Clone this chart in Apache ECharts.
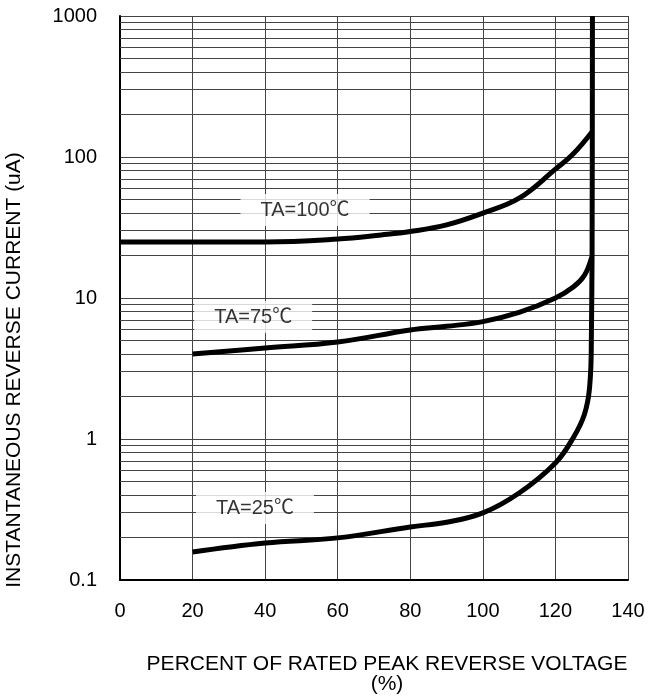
<!DOCTYPE html>
<html><head><meta charset="utf-8">
<script src="https://cdn.jsdelivr.net/npm/echarts@6/dist/echarts.min.js"></script>
<style>html,body{margin:0;padding:0;background:#fff}#c{width:658px;height:697px}</style>
</head><body><div id="c"></div>
<script>
// ---- data ----
var xTicks = [0, 20, 40, 60, 80, 100, 120, 140];
var yTicks = [0.1, 1, 10, 100, 1000];
var minorGrid = [0.2,0.3,0.4,0.5,0.6,0.7,0.8,0.9, 2,3,4,5,6,7,8,9, 20,30,40,50,60,70,80,90, 200,300,400,500,600,700,800,900];

var volt100 = [0, 20, 40, 60, 72, 80, 90, 100, 110, 120, 125, 130];
var curr100 = [25, 25, 25, 26.2, 28, 29.6, 33, 40, 51, 82, 106, 150];

var volt75 = [20, 40, 60, 80, 90, 100, 110, 120, 125, 128, 130];
var curr75 = [4.0, 4.42, 4.87, 5.93, 6.3, 6.8, 7.9, 10, 12, 14.5, 19.5];

var volt25 = [20, 40, 60, 80, 90, 100, 110, 120, 125, 128, 129.4, 129.9];
var curr25 = [0.158, 0.183, 0.199, 0.238, 0.257, 0.299, 0.414, 0.676, 1.03, 1.5, 2.3, 5];

var voltBreak = [129.9, 130.1, 130.2];
var currBreak = [5, 20, 1000];

var labelNames = ['TA=100℃', 'TA=75℃', 'TA=25℃'];
var labelX = [51, 36.7, 37.2];
var labelY = [42, 7.33, 0.324];

function pairs(xs, ys){ return xs.map(function(x,i){ return [x, ys[i]]; }); }

var font = "'Liberation Sans', Arial, 'Noto Sans CJK SC', sans-serif";
var chart = echarts.init(document.getElementById('c'));
var curveStyle = {color:'#000', width:5};
chart.setOption({
  animation:false,
  backgroundColor:'#fff',
  grid:{left:120, right:30, top:16, bottom:117},
  xAxis:{type:'value', min:0, max:140, interval:20,
    axisLine:{show:true, onZero:false, lineStyle:{color:'#000', width:2}},
    axisTick:{show:false},
    axisLabel:{color:'#000', fontSize:20, fontFamily:font, margin:21,
      formatter:function(v){ return xTicks.indexOf(v)>=0 ? String(v) : ''; }},
    splitLine:{show:true, lineStyle:{color:'#444', width:1}}
  },
  yAxis:{type:'log', logBase:10, min:0.1, max:1000,
    axisLine:{show:true, lineStyle:{color:'#000', width:2}},
    axisTick:{show:false},
    axisLabel:{color:'#000', fontSize:20, fontFamily:font, margin:23,
      formatter:function(v){ return yTicks.indexOf(+v.toPrecision(6))>=0 ? String(+v.toPrecision(6)) : ''; }},
    splitLine:{show:true, lineStyle:{color:'#444', width:1}}
  },
  graphic:[
    {type:'text', x:14, y:370, rotation:Math.PI/2, style:{text:'INSTANTANEOUS REVERSE CURRENT (uA)', font:'21px '+font, fill:'#000', align:'center', verticalAlign:'middle'}},
    {type:'text', x:387, y:664, style:{text:'PERCENT OF RATED PEAK REVERSE VOLTAGE', font:'21px '+font, fill:'#000', align:'center', verticalAlign:'middle'}},
    {type:'text', x:387, y:684, style:{text:'(%)', font:'21px '+font, fill:'#000', align:'center', verticalAlign:'middle'}}
  ],
  series:[
    {type:'line', data:[], silent:true,
     markLine:{silent:true, symbol:'none', label:{show:false}, animation:false,
       lineStyle:{color:'#444', width:1, type:'solid'},
       data:minorGrid.map(function(v){ return {yAxis:v}; })}},
    {type:'line', data:pairs(volt100, curr100), smooth:0.4, showSymbol:false, lineStyle:curveStyle, z:5},
    {type:'line', data:pairs(volt75, curr75), smooth:0.4, showSymbol:false, lineStyle:curveStyle, z:5},
    {type:'line', data:pairs(volt25, curr25), smooth:0.4, showSymbol:false, lineStyle:curveStyle, z:5},
    {type:'line', data:pairs(voltBreak, currBreak), smooth:0.3, showSymbol:false, lineStyle:curveStyle, z:5},
    {type:'scatter', symbolSize:0, z:6,
     data:labelNames.map(function(n,i){ return {value:[labelX[i], labelY[i]], name:n}; }),
     label:{show:true, position:'inside', formatter:function(p){ return p.name; },
       color:'#000', fontSize:20, fontFamily:font, backgroundColor:'#fff', padding:[6,20,6,20]}}
  ]
});
</script></body></html>
